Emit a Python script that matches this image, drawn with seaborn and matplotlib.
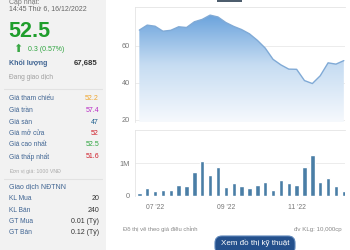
import numpy as np
import pandas as pd
import matplotlib
matplotlib.use("Agg")
import matplotlib.pyplot as plt
import seaborn as sns
from matplotlib.patches import Rectangle, FancyBboxPatch
from matplotlib.colors import LinearSegmentedColormap

# ---------------- data ----------------
weeks = list(range(27))
price = [68.5, 71.2, 70.6, 67.9, 68.4, 70.3, 69.9, 73.0, 74.3, 76.6, 75.6, 72.6, 70.5,
         68.8, 66.5, 63.0, 58.8, 52.7, 49.7, 47.4, 47.3, 41.2, 39.6, 43.8, 50.8, 50.1, 52.0]
volume_m = [0.07, 0.25, 0.14, 0.19, 0.19, 0.33, 0.30, 0.72, 1.08, 0.63, 0.90, 0.28, 0.38,
            0.31, 0.23, 0.32, 0.41, 0.18, 0.50, 0.39, 0.34, 0.89, 1.27, 0.42, 0.54, 0.29, 0.16]
volume = [v * 1e6 for v in volume_m]
month_ticks = [2, 11, 20]
month_labels = ["07 '22", "09 '22", "11 '22"]
price_ticks = [20, 40, 60]
vol_ticks = [0, 1e6]
vol_tick_labels = ["0", "1M"]

update_label = "Cập nhật:"
update_time = "14:45 Thứ 6, 16/12/2022"
last_price = "52.5"
change_text = "0.3 (0.57%)"
volume_label = "Khối lượng"
volume_value = "67,685"
status_text = "Đang giao dịch"
info_labels = ["Giá tham chiếu", "Giá trần", "Giá sàn", "Giá mở cửa", "Giá cao nhất", "Giá thấp nhất"]
info_values = ["52.2", "57.4", "47", "52", "52.5", "51.6"]
info_colors = ["#efa62f", "#b82bc4", "#1d5f8e", "#cf1f2b", "#2fa540", "#cf1f2b"]
unit_text = "Đơn vị giá: 1000 VNĐ"
foreign_title = "Giao dịch NĐTNN"
foreign_labels = ["KL Mua", "KL Bán", "GT Mua", "GT Bán"]
foreign_values = ["20", "240", "0.01 (Tỷ)", "0.12 (Tỷ)"]
note_left = "Đồ thị vẽ theo giá điều chỉnh"
note_right = "đv KLg: 10,000cp"
button_text = "Xem đồ thị kỹ thuật"

# ---------------- style ----------------
sns.set_style("white")
plt.rcParams["font.family"] = ["Liberation Sans", "DejaVu Sans"]

W, H = 350, 250
fig = plt.figure(figsize=(W / 100, H / 100), dpi=100)

# overlay in pixel coordinates
ov = fig.add_axes([0, 0, 1, 1], zorder=0)
ov.set_xlim(0, W)
ov.set_ylim(H, 0)
ov.axis("off")

ov.add_patch(Rectangle((0, 0), 106, H, color="#f2f2f2", lw=0))
ov.plot([4, 102], [89, 89], color="#e2e2e2", lw=0.8)
ov.plot([4, 102], [179, 179], color="#e2e2e2", lw=0.8)

lab_c = "#3f6492"
ov.text(9, 2, update_label, fontsize=5, color="#777777", va="center")
ov.text(9, 8.5, update_time, fontsize=5, color="#666666", va="center")
ov.text(8, 31.5, last_price, fontsize=15.5, color="#1f9e2c", fontweight="bold", va="center")
ov.text(18, 49, "⬆", fontsize=8, color="#3aa845", va="center", ha="center",
        family=["DejaVu Sans"])
ov.text(28, 49.5, change_text, fontsize=5, color="#2fa540", va="center")
ov.text(9, 63.5, volume_label, fontsize=5, color=lab_c, va="center", fontweight="bold")
ov.text(98, 63.5, volume_value, fontsize=5.6, color="#333333", va="center", ha="right",
        fontweight="bold")
ov.text(9, 77.5, status_text, fontsize=4.8, color="#a0a0a0", va="center")

for i, (lab, val, col) in enumerate(zip(info_labels, info_values, info_colors)):
    y = 99 + 11.5 * i
    ov.text(9, y, lab, fontsize=4.8, color=lab_c, va="center")
    ov.text(99, y, val, fontsize=5, color=col, va="center", ha="right")
ov.text(9, 171, unit_text, fontsize=3.8, color="#aaaaaa", va="center")

ov.text(9, 187, foreign_title, fontsize=5, color=lab_c, va="center")
for i, (lab, val) in enumerate(zip(foreign_labels, foreign_values)):
    y = 198.5 + 11.5 * i
    ov.text(9, y, lab, fontsize=4.8, color=lab_c, va="center")
    ov.text(99, y, val, fontsize=5, color="#333333", va="center", ha="right")

# small cut-off tab at top
ov.add_patch(Rectangle((217, -1), 25, 2.5, color="#4d5d6d", lw=0))

ov.text(123, 229, note_left, fontsize=4.2, color="#888888", va="center")
ov.text(342, 229, note_right, fontsize=4.4, color="#888888", va="center", ha="right")
ov.add_patch(FancyBboxPatch((215, 236), 80, 18, boxstyle="round,pad=0,rounding_size=7",
                            facecolor="#24508c", edgecolor="#5b84b8", lw=0.8))
ov.text(255, 242.5, button_text, fontsize=5.8, color="white", va="center", ha="center")

# ---------------- price area chart ----------------
ax1 = fig.add_axes([135 / W, 1 - 122 / H, 210 / W, 115 / H], zorder=1)
ax1.set_facecolor("none")
ylo, yhi = 18.8, 81.0
xlo, xhi = -0.55, 26.15
df_p = pd.DataFrame({"week": weeks, "price": price})
sns.lineplot(data=df_p, x="week", y="price", ax=ax1, color="#80aad6", lw=1.0, zorder=3)
fb = ax1.fill_between(weeks, price, ylo, color="none", lw=0)
cmap = LinearSegmentedColormap.from_list("g", ["#f6f9fd", "#c6dcf2", "#5c9ad9"])
grad = np.linspace(0, 1, 256).reshape(-1, 1)
im = ax1.imshow(grad, extent=[weeks[0], weeks[-1], ylo, yhi], aspect="auto", cmap=cmap,
                origin="lower", zorder=2)
im.set_clip_path(fb.get_paths()[0], transform=ax1.transData)
ax1.set_xlim(xlo, xhi)
ax1.set_ylim(ylo, yhi)
ax1.set_yticks(price_ticks)
ax1.set_yticklabels([str(t) for t in price_ticks])
ax1.set_xticks([])
ax1.set_xlabel("")
ax1.set_ylabel("")
ax1.grid(axis="y", color="#e9e9e9", lw=0.6)
ax1.set_axisbelow(True)
ax1.tick_params(axis="y", length=0, pad=3.5, labelsize=5.3, labelcolor="#777777")
for s in ["right", "bottom"]:
    ax1.spines[s].set_visible(False)
for s in ["left", "top"]:
    ax1.spines[s].set_color("#e4e4e4")
    ax1.spines[s].set_linewidth(0.6)

# ---------------- volume bar chart ----------------
ax2 = fig.add_axes([135 / W, 1 - 195.7 / H, 210 / W, 65.7 / H], zorder=1)
ax2.set_facecolor("none")
df_v = pd.DataFrame({"week": weeks, "volume": volume})
sns.barplot(data=df_v, x="week", y="volume", ax=ax2, color="#4a7ea6", saturation=1,
            width=0.56)
ax2.set_xlim(xlo, xhi)
ax2.set_ylim(0, 2.03e6)
ax2.set_yticks(vol_ticks)
ax2.set_yticklabels(vol_tick_labels)
ax2.set_xticks(month_ticks)
ax2.set_xticklabels(month_labels)
ax2.set_xlabel("")
ax2.set_ylabel("")
ax2.grid(axis="y", color="#e9e9e9", lw=0.6)
ax2.set_axisbelow(True)
ax2.tick_params(axis="y", length=0, pad=4, labelsize=5.3, labelcolor="#777777")
ax2.tick_params(axis="x", length=0, pad=6, labelsize=4.9, labelcolor="#777777")
for s in ["right", "bottom"]:
    ax2.spines[s].set_visible(False)
for s in ["left", "top"]:
    ax2.spines[s].set_color("#e4e4e4")
    ax2.spines[s].set_linewidth(0.6)

fig.savefig("out.png", dpi=100)
